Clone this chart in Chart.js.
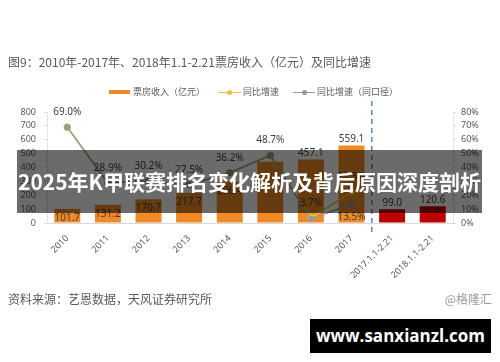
<!DOCTYPE html>
<html>
<head>
<meta charset="utf-8">
<script src="https://cdn.jsdelivr.net/npm/chart.js@4.4.0/dist/chart.umd.min.js"></script>
<style>
  body { margin: 0; width: 500px; height: 362px; overflow: hidden; background: #fff; position: relative;
         font-family: "Noto Sans CJK SC", "Noto Sans", sans-serif; }
  canvas { position: absolute; left: 0; top: 0; }
  .txt { position: absolute; white-space: nowrap; color: #595959; }
  .title { left: 8px; top: 53px; font-size: 12px; }
  .lg { top: 86px; font-size: 9px; line-height: 12px; }
  .sw { position: absolute; height: 0; }
  .dot { position: absolute; width: 5px; height: 5px; border-radius: 50%; }
  .source { left: 8px; top: 290px; font-size: 12px; }
  .brand { right: 8px; top: 290px; font-size: 12px; color: #9a9a9a; }
  .banner { position: absolute; left: 17px; top: 150px; width: 465px; height: 63px; background: rgba(0,0,0,0.58);
            color: #fff; font-weight: bold; font-size: 21px; line-height: 63px; text-align: center; white-space: nowrap; }
  .mark { position: absolute; left: 310px; top: 319px; width: 181px; height: 34px; background: #000; color: #fff;
          font-family: "Open Sans", sans-serif; font-weight: bold; font-size: 17px; line-height: 34px; text-align: center; }
</style>
</head>
<body>
<canvas id="chart" width="500" height="362"></canvas>

<div class="txt title">图9：2010年-2017年、2018年1.1-2.21票房收入（亿元）及同比增速</div>

<div class="sw" style="left:109px;top:90px;width:21px;border-top:4px solid #F08A24"></div>
<div class="txt lg" style="left:133px">票房收入（亿元）</div>
<div class="sw" style="left:218px;top:92px;width:23px;border-top:1.5px solid #EEC23C"></div>
<div class="dot" style="left:227px;top:90px;background:#EEC23C"></div>
<div class="txt lg" style="left:243px">同比增速</div>
<div class="sw" style="left:293px;top:92px;width:22px;border-top:1.5px solid #9A9A9A"></div>
<div class="dot" style="left:302px;top:90px;background:#9A9A9A"></div>
<div class="txt lg" style="left:317px">同比增速（同口径）</div>

<div class="txt source">资料来源：艺恩数据，天风证券研究所</div>
<div class="txt brand">@格隆汇</div>

<div class="banner">2025年K甲联赛排名变化解析及背后原因深度剖析</div>
<div class="mark">www.sanxianzl.com</div>

<script>
const categories = ['2010', '2011', '2012', '2013', '2014', '2015', '2016', '2017', '2017.1.1-2.21', '2018.1.1-2.21'];
const boxOffice = [101.7, 131.2, 170.7, 217.7, 296.4, 440.7, 457.1, 559.1, 99.0, 120.6];
const growth = [69.0, 28.9, 30.2, 27.5, 36.2, 48.7, 3.7, 22.3, null, null];
const growthSame = [69.0, 28.9, 30.2, 27.5, 36.2, 48.7, 3.0, 13.5, null, null];
const leftTicks = [0, 100, 200, 300, 400, 500, 600, 700, 800];
const rightTicks = [0, 10, 20, 30, 40, 50, 60, 70, 80];

const orange = '#F08A24';
const red = '#C00000';
const yellow = '#EEC23C';
const grey = '#9A9A9A';
const tickFont = { family: '"Noto Sans", sans-serif', size: 9 };

// bar values + line labels + dashed divider
const labelPlugin = {
    id: 'labels',
    afterDatasetsDraw(chart) {
        const ctx = chart.ctx;
        ctx.save();
        ctx.font = '10px "Noto Sans", sans-serif';
        ctx.fillStyle = '#404040';
        ctx.textAlign = 'center';

        chart.getDatasetMeta(0).data.forEach((bar, i) => {
            if (i === 5) return; // no label shown on 2015 bar
            if (i < 5) {
                ctx.textBaseline = 'middle';
                ctx.fillText(boxOffice[i].toFixed(1), bar.x, bar.y + 9);
            } else {
                ctx.textBaseline = 'bottom';
                ctx.fillText(boxOffice[i].toFixed(1), bar.x, bar.y - 1);
            }
        });

        ctx.textBaseline = 'middle';
        chart.getDatasetMeta(1).data.forEach((pt, i) => {
            if (growth[i] == null) return;
            ctx.fillText(growth[i].toFixed(1) + '%', pt.x, pt.y - 15);
        });
        chart.getDatasetMeta(2).data.forEach((pt, i) => {
            if (growthSame[i] == null || i < 7) return;
            ctx.fillText(growthSame[i].toFixed(1) + '%', pt.x, pt.y + 13);
        });

        // divider between yearly and Jan-Feb data
        const x = chart.scales.x;
        const mid = (x.getPixelForValue(7) + x.getPixelForValue(8)) / 2;
        ctx.strokeStyle = '#5B87B5';
        ctx.lineWidth = 1.5;
        ctx.setLineDash([5, 4]);
        ctx.beginPath();
        ctx.moveTo(mid, 101);
        ctx.lineTo(mid, 234);
        ctx.stroke();
        ctx.restore();
    }
};

new Chart(document.getElementById('chart'), {
    type: 'bar',
    data: {
        labels: categories,
        datasets: [
            {
                type: 'bar',
                label: '票房收入（亿元）',
                data: boxOffice,
                backgroundColor: boxOffice.map((v, i) => i < 8 ? orange : red),
                yAxisID: 'y',
                barPercentage: 0.64,
                categoryPercentage: 1,
                order: 3
            },
            {
                type: 'line',
                label: '同比增速',
                data: growth,
                borderColor: yellow,
                backgroundColor: yellow,
                borderWidth: 1.5,
                pointRadius: 3,
                tension: 0,
                yAxisID: 'y1',
                order: 2
            },
            {
                type: 'line',
                label: '同比增速（同口径）',
                data: growthSame,
                borderColor: grey,
                backgroundColor: grey,
                borderWidth: 1.5,
                pointRadius: 2.5,
                tension: 0,
                yAxisID: 'y1',
                order: 1
            }
        ]
    },
    options: {
        responsive: false,
        animation: false,
        layout: { padding: { top: 112, bottom: 79, left: 0, right: 0 } },
        plugins: { legend: { display: false }, tooltip: { enabled: false } },
        scales: {
            x: {
                grid: { display: false },
                border: { display: true, color: '#D9D9D9' },
                ticks: { color: '#595959', font: tickFont, maxRotation: 45, minRotation: 45, autoSkip: false, padding: 2 },
                afterFit(scale) { scale.height = 60; }
            },
            y: {
                min: 0,
                max: 800,
                afterBuildTicks(scale) { scale.ticks = leftTicks.map(v => ({ value: v })); },
                grid: { drawOnChartArea: false, tickLength: 3, color: '#D9D9D9' },
                border: { display: true, color: '#E3E3E3' },
                ticks: { color: '#595959', font: tickFont, padding: 8 },
                afterFit(scale) { scale.width = 47; }
            },
            y1: {
                position: 'right',
                min: 0,
                max: 80,
                afterBuildTicks(scale) { scale.ticks = rightTicks.map(v => ({ value: v })); },
                grid: { drawOnChartArea: false, tickLength: 3, color: '#D9D9D9' },
                border: { display: true, color: '#E3E3E3' },
                ticks: { color: '#595959', font: tickFont, padding: 5, callback: v => v + '%' },
                afterFit(scale) { scale.width = 47; }
            }
        }
    },
    plugins: [labelPlugin]
});
</script>
</body>
</html>
